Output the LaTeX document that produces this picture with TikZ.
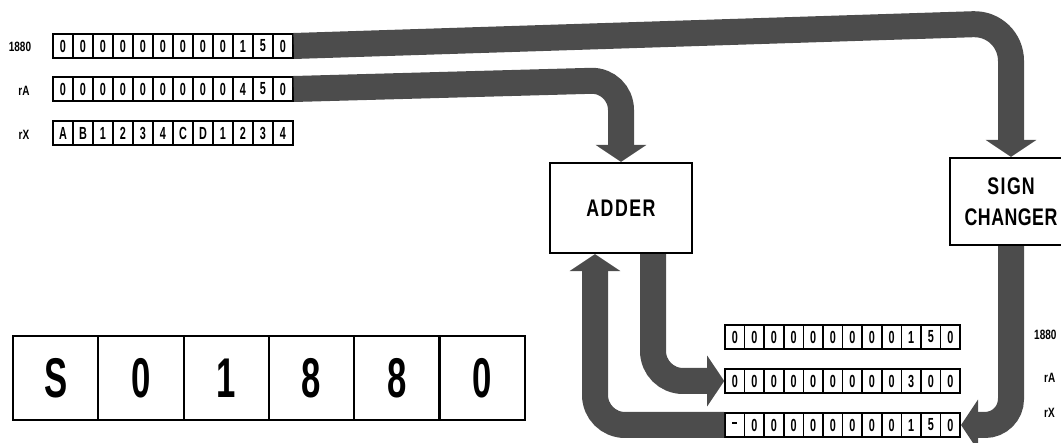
\documentclass[tikz,border=0pt]{standalone}
\usepackage{fontspec}
\newfontfamily\condfont[FakeStretch=0.62]{Liberation Sans}
\newfontfamily\medfont[FakeStretch=0.74]{Liberation Sans}
\usetikzlibrary{arrows.meta}
\begin{document}
\begin{tikzpicture}[x=1pt,y=-1pt,
  cell/.style={draw, line width=1.6pt, minimum width=20pt, minimum height=24pt, inner sep=0pt,
    font=\condfont\bfseries\fontsize{17.5}{17.5}\selectfont},
  cellb/.style={cell, minimum width=19.6pt},
  bigcell/.style={draw, line width=2.2pt, minimum width=85.3pt, minimum height=84pt, inner sep=0pt,
    font=\condfont\bfseries\fontsize{56}{56}\selectfont},
  unit/.style={draw, line width=2.2pt, inner sep=0pt, align=center,
    font=\medfont\bfseries\fontsize{24}{31}\selectfont},
  lbl/.style={inner sep=0pt, font=\medfont\bfseries\fontsize{13.5}{13.5}\selectfont},
  band/.style={line width=26pt, draw=black!70, rounded corners=30pt,
    -{Triangle[width=50pt,length=17pt]}}
]
\useasboundingbox (0,0) rectangle (1061,443);

% top-left registers
\foreach \d [count=\i] in {0,0,0,0,0,0,0,0,0,1,5,0}
  \node[cell] (ma-\i) at ({43+20*\i},46) {\d};
\foreach \d [count=\i] in {0,0,0,0,0,0,0,0,0,4,5,0}
  \node[cell] (ra-\i) at ({43+20*\i},89) {\d};
\foreach \d [count=\i] in {A,B,1,2,3,4,C,D,1,2,3,4}
  \node[cell] (rx-\i) at ({43+20*\i},133) {\d};
\node[lbl] (l1) at (20,47) {1880};
\node[lbl] (l2) at (24,91) {rA};
\node[lbl] (l3) at (24,135) {rX};

% bottom-right registers
\foreach \d [count=\i] in {0,0,0,0,0,0,0,0,0,1,5,0}
  \node[cellb] (nm-\i) at ({715.2+19.6*\i},337) {\d};
\foreach \d [count=\i] in {0,0,0,0,0,0,0,0,0,3,0,0}
  \node[cellb] (na-\i) at ({715.2+19.6*\i},381) {\d};
\foreach \d [count=\i] in {{\rule[4pt]{5pt}{2.6pt}},0,0,0,0,0,0,0,0,1,5,0}
  \node[cellb] (nx-\i) at ({715.2+19.6*\i},425) {\d};
\node[lbl, anchor=west] (r1) at (1034,335) {1880};
\node[lbl, anchor=west] (r2) at (1044,378) {rA};
\node[lbl, anchor=west] (r3) at (1044,413) {rX};

% big instruction register
\foreach \d [count=\i] in {S,0,1,8,8,0}
  \node[bigcell] (big-\i) at ({13+85.3*\i-42.65},378) {\d};

% units
\node[unit, minimum width=142pt, minimum height=90pt] (adder) at (621,208) {A\kern1.5pt D\kern1.5pt D\kern1.5pt E\kern1.5pt R};
\node[unit, minimum width=122pt, minimum height=87pt] (sc) at (1011,201.5) {S\kern1.5pt I\kern1.5pt G\kern1pt N\\C\kern0.5pt H\kern0.5pt A\kern0.5pt N\kern0.5pt G\kern0.5pt E\kern0.5pt R};

% bends
\coordinate (c1) at (1011,23);
\coordinate (c2) at (621,80);
\coordinate (c3) at (653,381);
\coordinate (c4) at (595,425);
\coordinate (c5) at (1011,425);

% flows
\draw[band, rounded corners=38pt] (ma-12.east) -- (c1) -- (sc.north);
\draw[band] (ra-12.east) -- (c2) -- (adder.north);
\draw[band] ([xshift=32pt]adder.south) -- (c3) -- (na-1.west);
\draw[band] (nx-1.west) -- (c4) -- ([xshift=-26pt]adder.south);
\draw[band, rounded corners=26pt] (sc.south) -- (c5) -- (nx-12.east);
\end{tikzpicture}
\end{document}
